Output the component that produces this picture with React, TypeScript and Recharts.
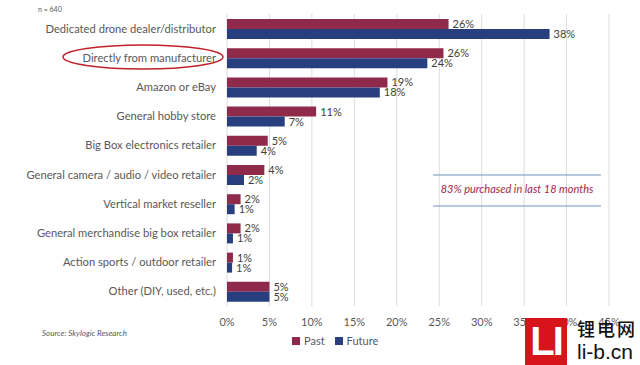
import { Bar, BarChart, CartesianGrid, LabelList, XAxis, YAxis } from 'recharts';

const categories = [
  'Dedicated drone dealer/distributor',
  'Directly from manufacturer',
  'Amazon or eBay',
  'General hobby store',
  'Big Box electronics retailer',
  'General camera / audio / video retailer',
  'Vertical market reseller',
  'General merchandise big box retailer',
  'Action sports / outdoor retailer',
  'Other (DIY, used, etc.)',
];
const pastValues = [26.1, 25.5, 18.9, 10.5, 4.8, 4.4, 1.6, 1.6, 0.7, 5.0];
const futureValues = [38.0, 23.6, 18.0, 6.8, 3.5, 2.0, 0.9, 0.7, 0.6, 5.0];
const xTicks = [0, 5, 10, 15, 20, 25, 30, 35, 40, 45];

const data = categories.map((name, i) => ({
  name,
  past: pastValues[i],
  future: futureValues[i],
}));

const FONT = 'Lato, "Open Sans", sans-serif';
const PAST = '#8f2a4b';
const FUTURE = '#273f7e';

const pct = (v: any) => `${Math.round(Number(v))}%`;

// single-line category label, right aligned against the plot
const CategoryTick = ({ x, y, payload }: any) => (
  <text x={x} y={y} dy={4} textAnchor="end" fontSize={11.2} fill="#595959" fontFamily={FONT}>
    {payload.value}
  </text>
);

export default function App() {
  return (
    <div style={{ position: 'absolute', left: 0, top: 0, width: 640, height: 365, background: '#fff', fontFamily: FONT, overflow: 'hidden' }}>
      <BarChart
        width={640}
        height={365}
        data={data}
        layout="vertical"
        margin={{ top: 14, right: 31, left: 0, bottom: 35 }}
        barSize={10}
        barGap={0}
      >
        <CartesianGrid stroke="#dcdcdc" horizontal={false} />
        <XAxis
          type="number"
          domain={[0, 45]}
          ticks={xTicks}
          tickFormatter={(v) => `${v}%`}
          tick={{ fontSize: 11, fill: '#595959', fontFamily: FONT }}
          tickLine={false}
          axisLine={false}
          height={24}
          tickMargin={6}
        />
        <YAxis
          type="category"
          dataKey="name"
          width={227}
          interval={0}
          tick={<CategoryTick />}
          tickLine={false}
          axisLine={false}
          tickMargin={5}
        />
        <Bar dataKey="past" name="Past" fill={PAST} isAnimationActive={false}>
          <LabelList dataKey="past" position="right" offset={4} formatter={pct} style={{ fontSize: 11, fill: '#404040', fontFamily: FONT }} />
        </Bar>
        <Bar dataKey="future" name="Future" fill={FUTURE} isAnimationActive={false}>
          <LabelList dataKey="future" position="right" offset={4} formatter={pct} style={{ fontSize: 11, fill: '#404040', fontFamily: FONT }} />
        </Bar>
      </BarChart>

      {/* legend */}
      <div style={{ position: 'absolute', left: 292, top: 334, display: 'flex', alignItems: 'center', fontSize: 11, color: '#595959' }}>
        <span style={{ width: 8, height: 8, background: PAST, marginRight: 4 }} />
        <span style={{ marginRight: 10 }}>Past</span>
        <span style={{ width: 8, height: 8, background: FUTURE, marginRight: 4 }} />
        <span>Future</span>
      </div>

      {/* notes */}
      <div style={{ position: 'absolute', left: 38, top: 5, fontSize: 7, color: '#595959' }}>n = 640</div>
      <div style={{ position: 'absolute', left: 42, top: 328, fontSize: 8, fontStyle: 'italic', color: '#595959' }}>Source: Skylogic Research</div>

      {/* highlight ellipse + callout */}
      <svg width={640} height={365} style={{ position: 'absolute', left: 0, top: 0, pointerEvents: 'none' }}>
        <ellipse cx={143} cy={57} rx={80} ry={12} fill="none" stroke="#c0202a" strokeWidth={1.5} />
        <line x1={433} x2={601} y1={175} y2={175} stroke="#6f93c2" strokeWidth={1} />
        <line x1={433} x2={601} y1={206} y2={206} stroke="#6f93c2" strokeWidth={1} />
      </svg>
      <div style={{ position: 'absolute', left: 433, width: 168, top: 182, textAlign: 'center', fontSize: 11, fontStyle: 'italic', color: '#a3284f' }}>
        83% purchased in last 18 months
      </div>

      {/* watermark */}
      <div style={{ position: 'absolute', left: 525, top: 318, width: 42, height: 47, background: '#d7141a', color: '#fff', fontFamily: 'Arial, sans-serif', fontWeight: 900, fontSize: 40, lineHeight: '47px', textAlign: 'center', letterSpacing: -2 }}>LI</div>
      <div style={{ position: 'absolute', left: 577, top: 316, whiteSpace: 'nowrap', fontFamily: '"Noto Sans CJK SC", sans-serif', fontWeight: 500, fontSize: 18, lineHeight: '24px', color: '#111', letterSpacing: 2 }}>锂电网</div>
      <div style={{ position: 'absolute', left: 577, top: 340, whiteSpace: 'nowrap', fontFamily: 'Arial, sans-serif', fontSize: 21, lineHeight: '24px', color: '#111' }}>li-b.cn</div>
    </div>
  );
}
